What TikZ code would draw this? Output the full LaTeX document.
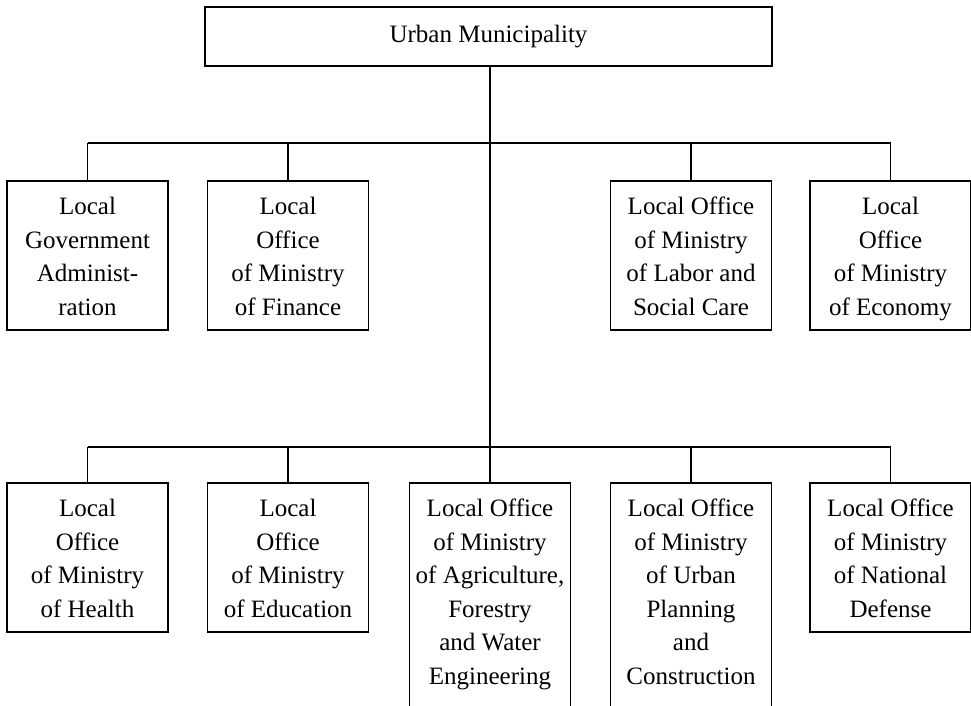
\documentclass[tikz,border=0pt]{standalone}
\usepackage{fontspec}
\setmainfont{Liberation Serif}
\begin{document}
\begin{tikzpicture}[x=1pt,y=-1pt,
  box/.style={draw=black, line width=1.3pt, minimum width=161pt, inner sep=0pt},
  lbl/.style={align=center, inner sep=0pt, anchor=north, font=\fontsize{25}{33.5}\selectfont},
  conn/.style={draw=black, line width=1.3pt}]
\useasboundingbox (0,0) rectangle (971,705);
% top
\node[box, minimum width=567pt, minimum height=59pt, font=\fontsize{25}{30}\selectfont] (top) at (488.5,36.5) {Urban Municipality};
% row 1
\node[box, minimum height=149pt] (a1) at (87.5,255.5) {};
\node[box, minimum height=149pt] (a2) at (288,255.5) {};
\node[box, minimum height=149pt] (a3) at (691,255.5) {};
\node[box, minimum height=149pt] (a4) at (890.5,255.5) {};
\node[lbl] (ta1) at ([yshift=-14pt]a1.north) {\rule{0pt}{20pt}Local\\Government\\Administ-\\ration};
\node[lbl] (ta2) at ([yshift=-14pt]a2.north) {\rule{0pt}{20pt}Local\\Office\\of Ministry\\of Finance};
\node[lbl] (ta3) at ([yshift=-14pt]a3.north) {\rule{0pt}{20pt}Local Office\\of Ministry\\of Labor and\\Social Care};
\node[lbl] (ta4) at ([yshift=-14pt]a4.north) {\rule{0pt}{20pt}Local\\Office\\of Ministry\\of Economy};
% row 2
\node[box, minimum height=149pt] (b1) at (87.5,557.5) {};
\node[box, minimum height=149pt] (b2) at (288,557.5) {};
\node[box, minimum height=257pt] (b3) at (490,611.5) {};
\node[box, minimum height=257pt] (b4) at (691,611.5) {};
\node[box, minimum height=149pt] (b5) at (890.5,557.5) {};
\node[lbl] (tb1) at ([yshift=-14pt]b1.north) {\rule{0pt}{20pt}Local\\Office\\of Ministry\\of Health};
\node[lbl] (tb2) at ([yshift=-14pt]b2.north) {\rule{0pt}{20pt}Local\\Office\\of Ministry\\of Education};
\node[lbl] (tb3) at ([yshift=-14pt]b3.north) {\rule{0pt}{20pt}Local Office\\of Ministry\\of Agriculture,\\Forestry\\and Water\\Engineering};
\node[lbl] (tb4) at ([yshift=-14pt]b4.north) {\rule{0pt}{20pt}Local Office\\of Ministry\\of Urban\\Planning\\and\\Construction};
\node[lbl] (tb5) at ([yshift=-14pt]b5.north) {\rule{0pt}{20pt}Local Office\\of Ministry\\of National\\Defense};
% connectors
\coordinate (j1) at (490,143);
\coordinate (j2) at (490,447);
\draw[conn] (top.south -| b3.north) -- (b3.north);
\draw[conn] (j1 -| a1.north) -- (j1 -| a4.north);
\draw[conn] (j2 -| b1.north) -- (j2 -| b5.north);
\foreach \n in {a1,a2,a3,a4} \draw[conn] (j1 -| \n.north) -- (\n.north);
\foreach \n in {b1,b2,b4,b5} \draw[conn] (j2 -| \n.north) -- (\n.north);
\end{tikzpicture}
\end{document}
